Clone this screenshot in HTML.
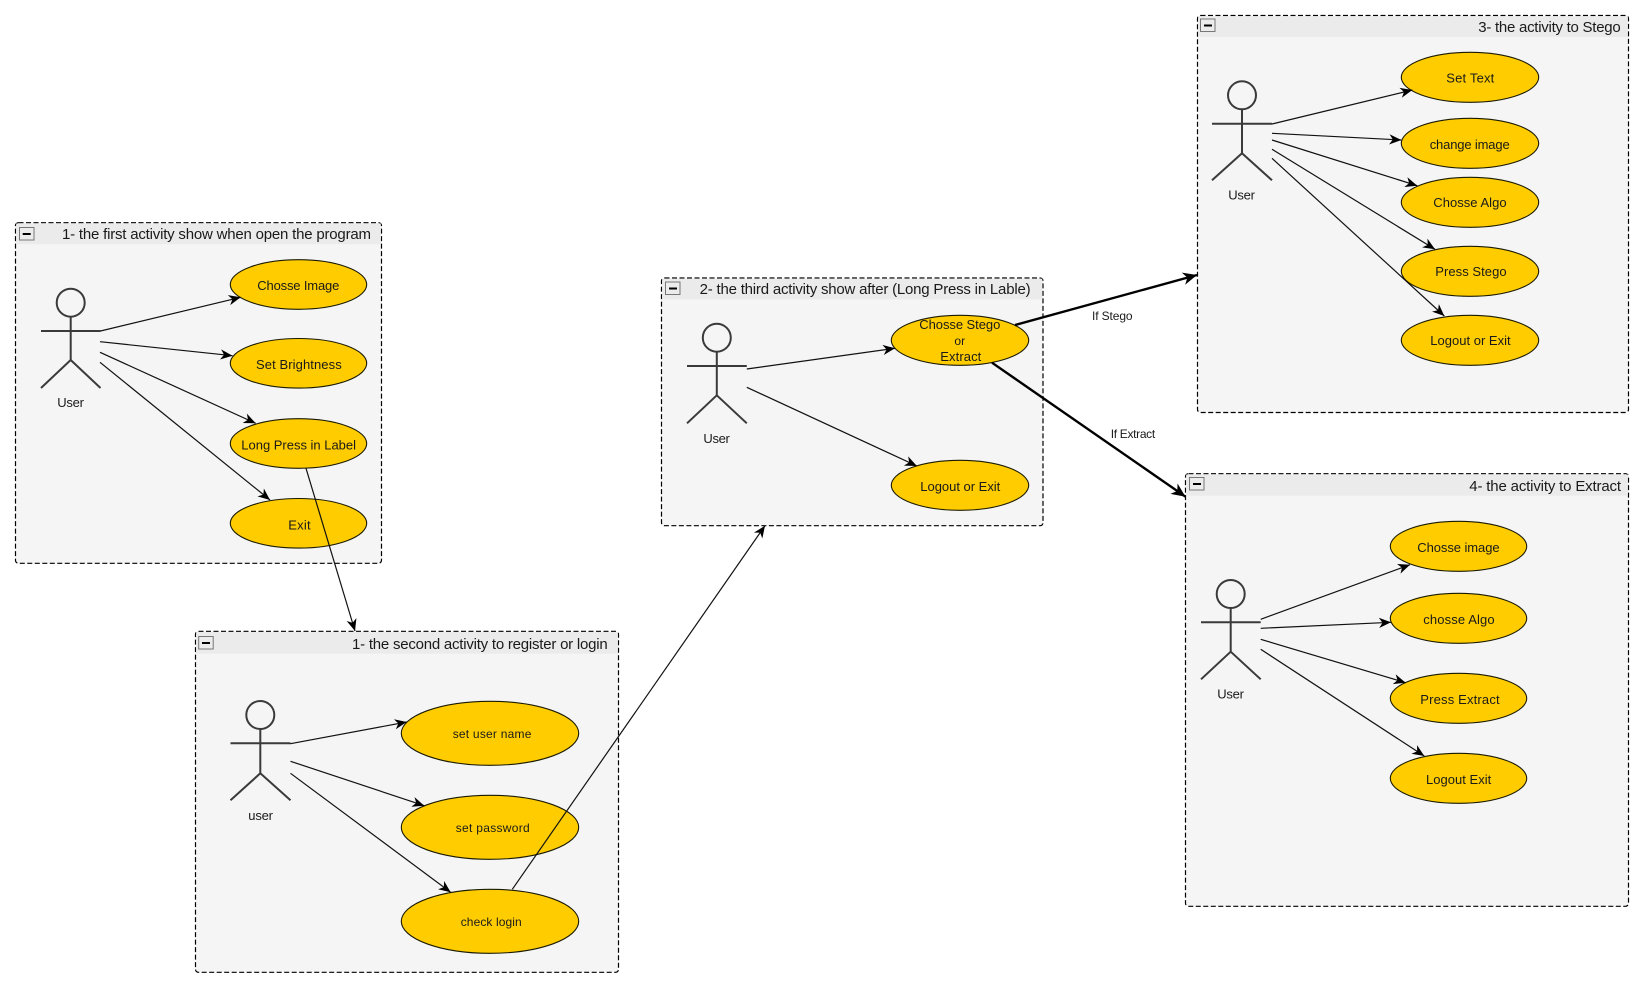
<!DOCTYPE html>
<html><head><meta charset="utf-8"><style>
html,body{margin:0;padding:0;background:#fff}
svg{display:block}
text{font-family:"Liberation Sans",Arial,sans-serif;fill:#1a1a1a;font-size:13px}
.t{font-size:15px}
.s{font-size:12px}
.b{fill:#f5f5f5;stroke:#000;stroke-width:1.2;stroke-dasharray:5 2.5}
.h{fill:#ebebeb}
.m{fill:#ececec;stroke:#777;stroke-width:1}
.e{fill:#ffcc00;stroke:#1a1a00;stroke-width:1.1}
.a{fill:none;stroke:#3a3a3a;stroke-width:2}
.l{stroke:#111;stroke-width:1.2;fill:none;marker-end:url(#ar)}
.k{stroke:#000;stroke-width:2.4;fill:none;marker-end:url(#ak)}
</style></head><body>
<svg width="1644" height="988" viewBox="0 0 1644 988" xmlns="http://www.w3.org/2000/svg">
<defs>
<marker id="ar" markerUnits="userSpaceOnUse" markerWidth="14" markerHeight="12" refX="12" refY="6" orient="auto" overflow="visible"><path d="M0,0.9 L12,6 L0,11.1 L3.5,6 Z" fill="#000"/></marker>
<marker id="ak" markerUnits="userSpaceOnUse" markerWidth="16" markerHeight="14" refX="14" refY="7" orient="auto" overflow="visible"><path d="M0,0.7 L14,7 L0,13.3 L4,7 Z" fill="#000"/></marker>
</defs>

<!-- Box 1 -->
<rect x="15.5" y="222.7" width="366" height="340.6" rx="3" class="b"/>
<rect x="16.2" y="223.4" width="364.6" height="20.8" class="h"/>
<rect x="19.5" y="227.5" width="14.5" height="12.5" class="m"/>
<rect x="22.7" y="233" width="8" height="2" fill="#000"/>
<text class="t" x="62" y="239" textLength="309" lengthAdjust="spacing">1- the first activity show when open the program</text>
<g class="a"><circle cx="70.7" cy="302.7" r="14"/><path d="M41 331H100.5M70.7 316.7V360M70.7 360L41 388M70.7 360L100.5 388"/></g>
<text x="57.3" y="407" textLength="26.7">User</text>
<ellipse cx="298.5" cy="284.5" rx="68.2" ry="24.8" class="e"/>
<ellipse cx="298.5" cy="363.3" rx="68.2" ry="24.8" class="e"/>
<ellipse cx="298.5" cy="443.5" rx="68.2" ry="24.8" class="e"/>
<ellipse cx="298.5" cy="523.3" rx="68.2" ry="24.8" class="e"/>
<text x="257.3" y="290" textLength="82">Chosse Image</text>
<text x="256" y="369" textLength="85.7">Set Brightness</text>
<text x="241.3" y="449.3" textLength="114.7">Long Press in Label</text>
<text x="288.3" y="529.3" textLength="22.3">Exit</text>

<!-- Box 2 -->
<rect x="195.5" y="631.3" width="423" height="341" rx="3" class="b"/>
<rect x="196.2" y="632" width="421.6" height="21.7" class="h"/>
<rect x="198.7" y="636.5" width="14.5" height="12.5" class="m"/>
<rect x="202" y="642" width="8" height="2" fill="#000"/>
<text class="t" x="352" y="649" textLength="255.7">1- the second activity to register or login</text>
<g class="a"><circle cx="260.3" cy="715" r="14"/><path d="M230.5 743.3H290.5M260.3 729V773.3M260.3 773.3L230.5 800.3M260.3 773.3L290.5 800.3"/></g>
<text x="248.3" y="820" textLength="24.7">user</text>
<ellipse cx="490" cy="733.3" rx="88.7" ry="32" class="e"/>
<ellipse cx="490" cy="827.3" rx="88.7" ry="32" class="e"/>
<ellipse cx="490" cy="921.3" rx="88.7" ry="32" class="e"/>
<text x="452.7" y="738" textLength="78.7" class="s">set user name</text>
<text x="455.7" y="832" textLength="74" class="s">set password</text>
<text x="460.7" y="926" textLength="61" class="s">check login</text>

<!-- Box mid -->
<rect x="661.5" y="278" width="381.5" height="247.7" rx="3" class="b"/>
<rect x="662.2" y="278.7" width="380" height="20.6" class="h"/>
<rect x="665.5" y="282" width="14.5" height="12.5" class="m"/>
<rect x="669" y="287.5" width="8" height="2" fill="#000"/>
<text class="t" x="699.6" y="294" textLength="331">2- the third activity show after (Long Press in Lable)</text>
<g class="a"><circle cx="716.8" cy="337.7" r="14"/><path d="M687 366H746.8M716.8 351.7V395.3M716.8 395.3L687 423.3M716.8 395.3L746.8 423.3"/></g>
<text x="703.4" y="443" textLength="26.5">User</text>
<ellipse cx="960" cy="340.3" rx="68.7" ry="25" class="e"/>
<ellipse cx="960" cy="485.3" rx="68.7" ry="25" class="e"/>
<text x="919.3" y="329" textLength="81">Chosse Stego</text>
<text x="954.4" y="345" textLength="10.7" class="s">or</text>
<text x="940.3" y="361" textLength="41">Extract</text>
<text x="920.3" y="491" textLength="80">Logout or Exit</text>

<!-- Box top right -->
<rect x="1197.5" y="15.5" width="431" height="397" rx="3" class="b"/>
<rect x="1198.2" y="16.2" width="429.6" height="20.8" class="h"/>
<rect x="1200.5" y="19" width="14.5" height="12.5" class="m"/>
<rect x="1204" y="24.5" width="8" height="2" fill="#000"/>
<text class="t" x="1478.3" y="32" textLength="142.4">3- the activity to Stego</text>
<g class="a"><circle cx="1242" cy="95.3" r="14"/><path d="M1212 123.7H1272M1242 109.3V153.3M1242 153.3L1212 180.3M1242 153.3L1272 180.3"/></g>
<text x="1228.3" y="199.7" textLength="26.7">User</text>
<ellipse cx="1470" cy="77.3" rx="68.7" ry="25" class="e"/>
<ellipse cx="1470" cy="143.3" rx="68.7" ry="25" class="e"/>
<ellipse cx="1470" cy="202.3" rx="68.7" ry="25" class="e"/>
<ellipse cx="1470" cy="271.3" rx="68.7" ry="25" class="e"/>
<ellipse cx="1470" cy="340.3" rx="68.7" ry="25" class="e"/>
<text x="1446.3" y="82.7" textLength="48">Set Text</text>
<text x="1429.7" y="149" textLength="80">change image</text>
<text x="1433.3" y="207" textLength="73.3">Chosse Algo</text>
<text x="1435.3" y="276" textLength="71.3">Press Stego</text>
<text x="1430.3" y="345" textLength="80.3">Logout or Exit</text>

<!-- Box bottom right -->
<rect x="1185.5" y="473.7" width="443" height="432.6" rx="3" class="b"/>
<rect x="1186.2" y="474.4" width="441.6" height="21.3" class="h"/>
<rect x="1189.5" y="477.5" width="14.5" height="12.5" class="m"/>
<rect x="1193" y="483" width="8" height="2" fill="#000"/>
<text class="t" x="1469.3" y="491" textLength="151.7">4- the activity to Extract</text>
<g class="a"><circle cx="1230.7" cy="594" r="14"/><path d="M1201 622.3H1260.7M1230.7 608V651.7M1230.7 651.7L1201 679.3M1230.7 651.7L1260.7 679.3"/></g>
<text x="1217.3" y="698.7" textLength="26.7">User</text>
<ellipse cx="1458.5" cy="546.3" rx="68.2" ry="25" class="e"/>
<ellipse cx="1458.5" cy="618.3" rx="68.2" ry="25" class="e"/>
<ellipse cx="1458.5" cy="698.3" rx="68.2" ry="25" class="e"/>
<ellipse cx="1458.5" cy="778.3" rx="68.2" ry="25" class="e"/>
<text x="1417.3" y="552" textLength="82.3">Chosse image</text>
<text x="1423.3" y="624" textLength="71.3">chosse Algo</text>
<text x="1420.3" y="704" textLength="79.3">Press Extract</text>
<text x="1426" y="784" textLength="65.3">Logout Exit</text>

<!-- Edges -->
<line x1="100.5" y1="331" x2="240.7" y2="297.3" class="l"/>
<line x1="100" y1="341.7" x2="232.5" y2="355.7" class="l"/>
<line x1="100" y1="352.3" x2="255.7" y2="423.3" class="l"/>
<line x1="100" y1="362.3" x2="270" y2="500" class="l"/>
<line x1="306" y1="468.3" x2="355" y2="631" class="l"/>
<line x1="290.5" y1="743.7" x2="406.7" y2="722" class="l"/>
<line x1="290.5" y1="761.3" x2="424.3" y2="805.7" class="l"/>
<line x1="290.5" y1="773.3" x2="450.7" y2="892.3" class="l"/>
<line x1="512.3" y1="889.3" x2="765" y2="525.7" class="l"/>
<line x1="746.8" y1="369" x2="895" y2="348.3" class="l"/>
<line x1="746.8" y1="387.3" x2="916.9" y2="466" class="l"/>
<line x1="1015" y1="325" x2="1197" y2="275" class="k"/>
<line x1="992" y1="362.7" x2="1185.5" y2="496.7" class="k"/>
<line x1="1272" y1="124" x2="1412.3" y2="90" class="l"/>
<line x1="1272" y1="133.3" x2="1401.3" y2="140" class="l"/>
<line x1="1272" y1="140" x2="1417.3" y2="185.7" class="l"/>
<line x1="1272" y1="149.3" x2="1435" y2="249.3" class="l"/>
<line x1="1272" y1="158.3" x2="1444.3" y2="316" class="l"/>
<line x1="1260.7" y1="619.3" x2="1410" y2="564.7" class="l"/>
<line x1="1260.7" y1="628.3" x2="1391" y2="622.3" class="l"/>
<line x1="1260.7" y1="639.3" x2="1405.7" y2="682.7" class="l"/>
<line x1="1260.7" y1="649.3" x2="1424.3" y2="756" class="l"/>

<text x="1092" y="320" textLength="40.6" class="s">If Stego</text>
<text x="1110.7" y="438" textLength="44.5" class="s">If Extract</text>
</svg>
</body></html>
